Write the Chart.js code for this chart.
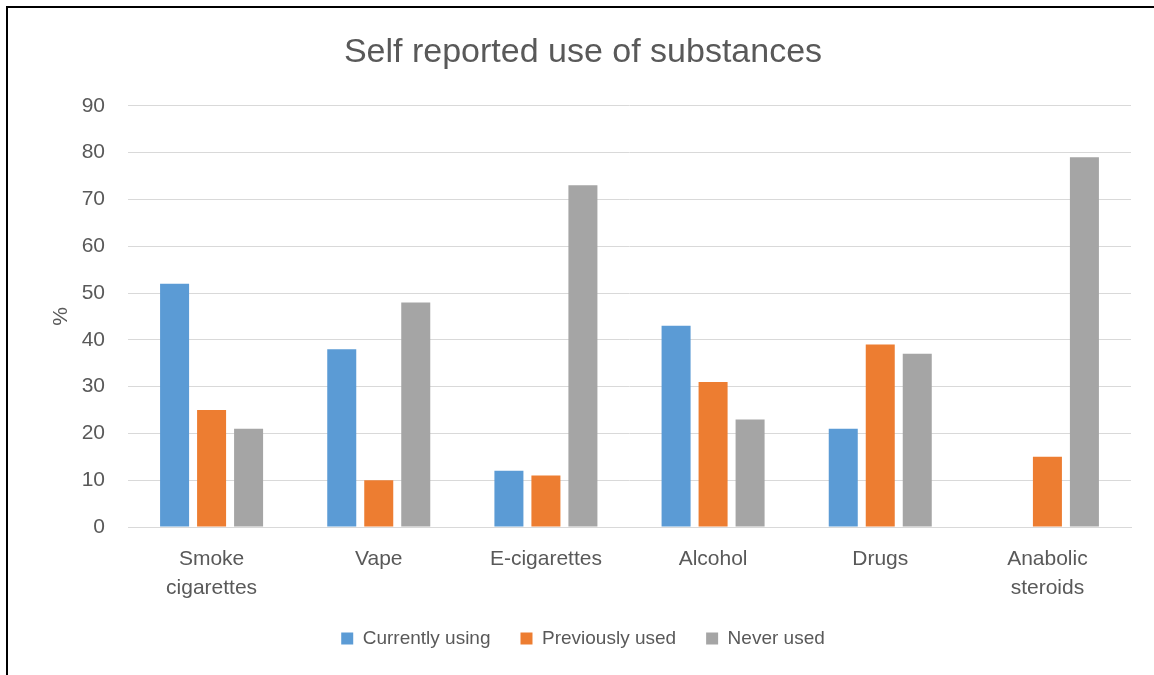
<!DOCTYPE html>
<html>
<head>
<meta charset="utf-8">
<script src="https://cdn.jsdelivr.net/npm/chart.js@4/dist/chart.umd.min.js"></script>
<style>
  html, body { margin: 0; padding: 0; background: #fff; }
  #wrap { position: relative; width: 1154px; height: 675px; overflow: hidden; }
  #frame { position: absolute; left: 6px; top: 6px; width: 1160px; height: 700px;
           border-left: 2px solid #000; border-top: 2px solid #000; pointer-events: none; }
  canvas { position: absolute; left: 0; top: 0; }
</style>
</head>
<body>
<div id="wrap">
  <canvas id="chart" width="1154" height="675"></canvas>
  <div id="frame"></div>
</div>
<script>
// Substance categories (multi-line labels as arrays)
const categories = [
  ['Smoke', 'cigarettes'],
  'Vape',
  'E-cigarettes',
  'Alcohol',
  'Drugs',
  ['Anabolic', 'steroids']
];

// Share of respondents (%) per category
const currentlyUsing = [52, 38, 12, 43, 21, 0];
const previouslyUsed = [25, 10, 11, 31, 39, 15];
const neverUsed      = [21, 48, 73, 23, 37, 79];

const seriesNames = ['Currently using', 'Previously used', 'Never used'];
const yTicks = [0, 10, 20, 30, 40, 50, 60, 70, 80, 90];

const FONT = "'Liberation Sans', Arial, sans-serif";
const TEXT = '#595959';
const GRID = '#D9D9D9';

// Pull the legend row a little closer to the category labels
const legendNudge = {
  id: 'legendNudge',
  afterLayout(chart) {
    const lg = chart.legend;
    if (lg) { lg.top -= 14; lg.bottom -= 14; }
  }
};

new Chart(document.getElementById('chart'), {
  type: 'bar',
  data: {
    labels: categories,
    datasets: [
      { label: seriesNames[0], data: currentlyUsing, backgroundColor: '#5B9BD5' },
      { label: seriesNames[1], data: previouslyUsed, backgroundColor: '#ED7D31' },
      { label: seriesNames[2], data: neverUsed,      backgroundColor: '#A5A5A5' }
    ]
  },
  plugins: [legendNudge],
  options: {
    responsive: false,
    animation: false,
    devicePixelRatio: 1,
    datasets: { bar: { categoryPercentage: 0.664, barPercentage: 0.784 } },
    layout: { padding: { left: 35, right: 23, top: 0, bottom: 3 } },
    plugins: {
      tooltip: { enabled: false },
      title: {
        display: true,
        text: 'Self reported use of substances',
        color: TEXT,
        font: { family: FONT, size: 34, weight: 'normal' },
        padding: { top: 32, bottom: 33 }
      },
      legend: {
        position: 'bottom',
        labels: {
          color: TEXT,
          font: { family: FONT, size: 19 },
          boxWidth: 12,
          boxHeight: 12,
          padding: 30
        }
      }
    },
    scales: {
      x: {
        grid: { display: false },
        border: { display: true, color: GRID, width: 1 },
        ticks: {
          color: TEXT,
          font: { family: FONT, size: 21, lineHeight: 1.38 },
          padding: 10,
          maxRotation: 0,
          autoSkip: false
        }
      },
      y: {
        min: 0,
        max: 90,
        afterBuildTicks: (axis) => { axis.ticks = yTicks.map(v => ({ value: v })); },
        afterFit: (axis) => { axis.width = 93; },
        grid: { color: GRID, lineWidth: 1, drawTicks: false },
        border: { display: false },
        ticks: {
          color: TEXT,
          font: { family: FONT, size: 21 },
          padding: 23
        },
        title: {
          display: true,
          text: '%',
          color: TEXT,
          font: { family: FONT, size: 21 },
          padding: { top: 14, bottom: 0 }
        }
      }
    }
  }
});
</script>
</body>
</html>
